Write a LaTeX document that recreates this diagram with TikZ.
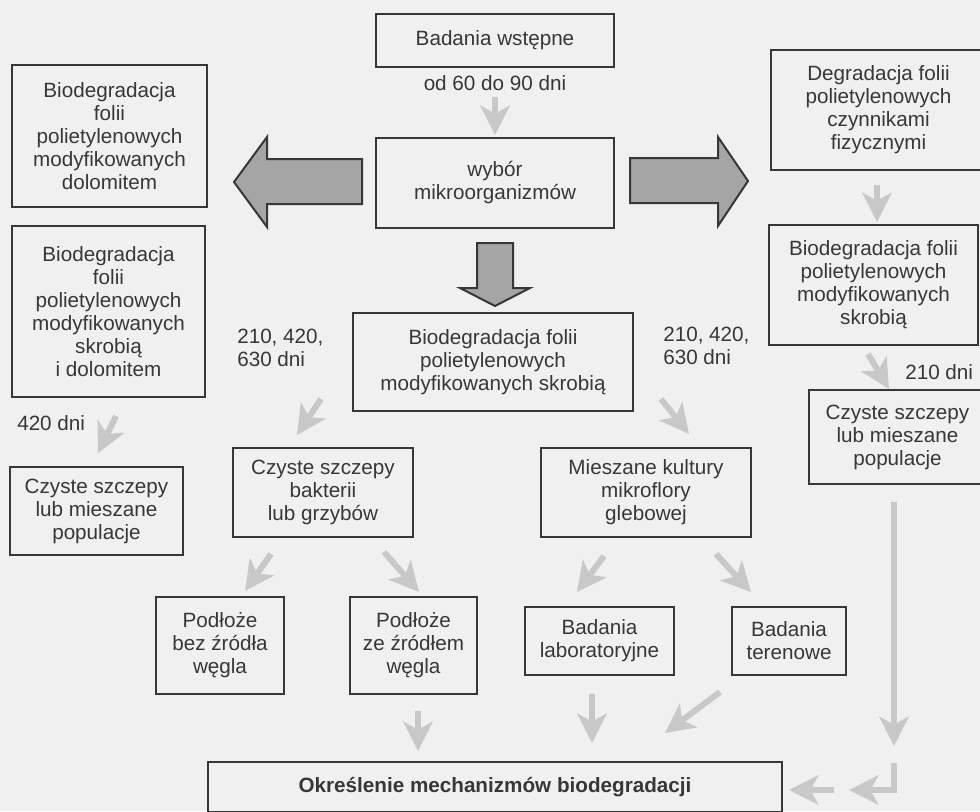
\documentclass[tikz,border=0pt]{standalone}
\usepackage{fontspec}
\setmainfont{Liberation Sans}
\usetikzlibrary{arrows.meta}
\definecolor{paper}{RGB}{240,240,240}
\definecolor{ink}{RGB}{55,55,55}
\definecolor{flow}{RGB}{200,200,200}
\definecolor{block}{RGB}{165,165,165}
\newcommand{\txtfont}{\fontsize{15.5}{17.25}\selectfont}
% \pbox{name}{x1}{y1}{x2}{y2}{text}: framed box given by its corners
\newcommand{\pbox}[6]{%
  \node[box, minimum width={(#4-#2)*0.75pt}, minimum height={(#5-#3)*0.75pt}]
    (#1) at ({(#2+#4)/2},{(#3+#5)/2}) {#6};}
\begin{document}
\begin{tikzpicture}[x=0.75pt,y=-0.75pt,
  box/.style={draw=ink, line width=1.7pt, inner sep=0pt, align=center,
              text=ink, font=\txtfont},
  lbl/.style={text=ink, font=\txtfont, inner sep=0pt, align=left},
  flowarrow/.style={draw=flow, line width=4.5pt,
              -{Stealth[length=22pt,width=22pt,inset=6pt]}},
  blockarrow/.style={draw=ink, line width=1.5pt, fill=block, line join=miter}]

\fill[paper] (0,0) rectangle (980,811);
\useasboundingbox (0,0) rectangle (980,811);

\begin{scope}
\clip (0,0) rectangle (980,811);

% central column
\pbox{bw}{376}{14}{614}{67}{Badania wstępne}
\pbox{wyb}{376}{138}{614}{228}{wybór\\mikroorganizmów}
\pbox{cen}{353}{313}{633}{411}{Biodegradacja folii\\polietylenowych\\modyfikowanych skrobią}

% left column
\pbox{l1}{12}{65}{207}{207}{Biodegradacja\\folii\\polietylenowych\\modyfikowanych\\dolomitem}
\pbox{l2}{12}{226}{205}{397}{Biodegradacja\\folii\\polietylenowych\\modyfikowanych\\skrobią\\i dolomitem}
\pbox{l3}{10}{467}{183}{555}{Czyste szczepy\\lub mieszane\\populacje}

% right column
\pbox{r1}{771}{50}{986}{170}{Degradacja folii\\polietylenowych\\czynnikami\\fizycznymi}
\pbox{r2}{769}{225}{978}{345}{Biodegradacja folii\\polietylenowych\\modyfikowanych\\skrobią}
\pbox{r3}{809}{390}{986}{484}{Czyste szczepy\\lub mieszane\\populacje}

% second and third levels
\pbox{bak}{233}{448}{413}{537}{Czyste szczepy\\bakterii\\lub grzybów}
\pbox{mie}{541}{448}{751}{537}{Mieszane kultury\\mikroflory\\glebowej}
\pbox{pb}{156}{597}{284}{694}{Podłoże\\bez źródła\\węgla}
\pbox{pz}{350}{597}{477}{694}{Podłoże\\ze źródłem\\węgla}
\pbox{lab}{525}{607}{674}{675}{Badania\\laboratoryjne}
\pbox{ter}{732}{607}{846}{675}{Badania\\terenowe}
\pbox{bot}{208}{762}{782}{812}{\bfseries Określenie mechanizmów biodegradacji}

% time labels
\node[lbl] (t0) at (495,83) {od 60 do 90 dni};
\node[lbl, anchor=west] (t1) at (237,348) {210, 420,\\630 dni};
\node[lbl, anchor=west] (t2) at (663,346) {210, 420,\\630 dni};
\node[lbl, anchor=west] (t3) at (17,423) {420 dni};
\node[lbl, anchor=west] (t4) at (905,372) {210 dni};

% block arrows leaving the selection step
\draw[blockarrow] (362,159) -- (267,159) -- (267,137) -- (234,182)
   -- (267,227) -- (267,204) -- (362,204) -- cycle;
\draw[blockarrow] (630,158) -- (718,158) -- (718,137) -- (748,181)
   -- (718,226) -- (718,203) -- (630,203) -- cycle;
\draw[blockarrow] (477,243) -- (513,243) -- (513,288) -- (530,288)
   -- (495,306) -- (460,288) -- (477,288) -- cycle;

% end points of the flow arrows
\coordinate (a1s) at (495,97);   \coordinate (a1e) at (495,135);
\coordinate (a2s) at (877,185);  \coordinate (a2e) at (877,222);
\coordinate (a3s) at (868,354);  \coordinate (a3e) at (889,389);
\coordinate (a4s) at (116,416);  \coordinate (a4e) at (98,453);
\coordinate (a5s) at (321,399);  \coordinate (a5e) at (297,435);
\coordinate (a6s) at (661,399);  \coordinate (a6e) at (689,434);
\coordinate (a7s) at (271,554);  \coordinate (a7e) at (245,591);
\coordinate (a8s) at (384,552);  \coordinate (a8e) at (419,592);
\coordinate (a9s) at (604,556);  \coordinate (a9e) at (577,592);
\coordinate (a10s) at (716,554); \coordinate (a10e) at (751,592);
\coordinate (a11s) at (418,711); \coordinate (a11e) at (418,751);
\coordinate (a12s) at (592,694); \coordinate (a12e) at (592,743);
\coordinate (a13s) at (720,692); \coordinate (a13e) at (665,733);
\coordinate (a14s) at (894,502); \coordinate (a14e) at (894,746);
\coordinate (a15s) at (894,763); \coordinate (a15e) at (849,790);
\coordinate (a16s) at (834,790); \coordinate (a16e) at (789,790);

\draw[flowarrow] (a1s) -- (a1e);
\draw[flowarrow] (a2s) -- (a2e);
\draw[flowarrow] (a3s) -- (a3e);
\draw[flowarrow] (a4s) -- (a4e);
\draw[flowarrow] (a5s) -- (a5e);
\draw[flowarrow] (a6s) -- (a6e);
\draw[flowarrow] (a7s) -- (a7e);
\draw[flowarrow] (a8s) -- (a8e);
\draw[flowarrow] (a9s) -- (a9e);
\draw[flowarrow] (a10s) -- (a10e);
\draw[flowarrow] (a11s) -- (a11e);
\draw[flowarrow] (a12s) -- (a12e);
\draw[flowarrow] (a13s) -- (a13e);
\draw[flowarrow] (a14s) -- (a14e);
\draw[flowarrow, line join=miter] (a15s) |- (a15e);
\draw[flowarrow] (a16s) -- (a16e);
\end{scope}
\end{tikzpicture}
\end{document}
